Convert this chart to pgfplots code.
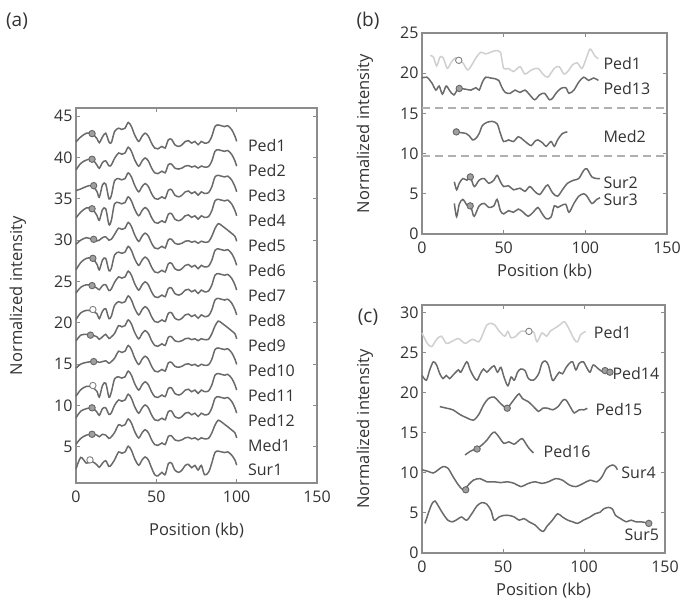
\documentclass[border=0pt]{standalone}
\usepackage{pgfplots}
\pgfplotsset{compat=1.18}
\usepackage{pgfplotstable}
\usepackage{fontspec}
\setmainfont{Open Sans}
\definecolor{ln}{HTML}{6A6A6A}
\definecolor{lt}{HTML}{CFCFCF}
\definecolor{fr}{HTML}{8C8C8C}
\definecolor{dsh}{HTML}{B0B0B0}
\definecolor{txt}{HTML}{333333}

\pgfplotstableread{
x a1 a2 a3 a4 a5 a6 a7 a8 a9 a10 a11 a12 a13 a14
0 41.9 38.5 36.0 32.7 29.5 26.4 23.6 20.4 17.8 14.5 11.1 8.5 5.3 2.3
3 42.5 39.3 36.2 33.4 30.0 27.3 24.3 21.2 18.5 15.0 11.9 9.3 6.0 3.7
6.5 42.95 39.7 36.5 33.9 30.3 27.8 24.6 21.5 18.6 15.2 12.3 9.6 6.4 3.0
10 42.9 39.8 36.6 33.8 30.1 27.8 24.5 21.4 18.5 15.3 12.2 9.7 6.5 3.2
13 42.3 39.1 35.9 33.0 29.9 27.1 24.2 21.1 18.3 15.3 11.7 9.2 6.4 2.8
14.5 41.8 38.7 35.2 32.4 30.0 26.4 24.0 20.5 18.0 15.2 11.0 8.8 6.2 2.5
16.5 42.5 39.4 36.7 33.7 30.3 27.6 24.5 21.4 18.3 15.3 12.4 9.6 6.5 3.0
18.5 42.95 39.6 36.8 33.8 30.4 27.8 24.6 21.7 18.6 15.4 12.7 9.7 6.4 3.3
20.5 41.9 39.0 35.0 31.9 30.0 26.3 23.9 20.5 18.1 15.1 11.0 8.9 6.0 2.6
22 41.8 39.1 35.4 32.4 30.1 26.6 24.1 20.8 18.3 15.3 11.6 9.1 6.2 2.8
24 43.15 39.9 37.2 34.4 30.7 28.2 24.9 22.1 18.7 15.7 13.2 10.0 6.7 3.4
26.5 43.55 40.55 37.45 34.55 31.45 28.55 25.55 22.55 19.65 16.55 13.45 10.65 7.65 4.35
28.5 43.4 40.4 37.3 34.4 31.3 28.4 25.4 22.4 19.5 16.4 13.3 10.5 7.5 4.2
30.5 43.55 40.55 37.45 34.55 31.45 28.55 25.55 22.55 19.65 16.55 13.45 10.65 7.65 4.35
32.5 44.25 41.25 38.15 35.25 32.15 29.25 26.25 23.25 20.35 17.25 14.15 11.35 8.35 5.05
34.5 43.75 40.75 37.65 34.75 31.65 28.75 25.75 22.75 19.85 16.75 13.65 10.85 7.85 4.55
36.5 42.75 39.75 36.65 33.75 30.65 27.75 24.75 21.75 18.85 15.75 12.65 9.85 6.85 3.55
39 41.95 38.95 35.85 32.95 29.85 26.95 23.95 20.95 18.05 14.95 11.85 9.05 6.05 2.75
41 42.55 39.55 36.45 33.55 30.45 27.55 24.55 21.55 18.65 15.55 12.45 9.65 6.65 3.35
43 42.95 39.95 36.85 33.95 30.85 27.95 24.95 21.95 19.05 15.95 12.85 10.05 7.05 3.75
45 42.6 39.6 36.5 33.6 30.5 27.6 24.6 21.6 18.7 15.6 12.5 9.7 6.7 3.4
47 41.75 38.75 35.65 32.75 29.65 26.75 23.75 20.75 17.85 14.75 11.65 8.85 5.85 2.45
49 41.15 38.15 35.05 32.15 29.05 26.15 23.15 20.15 17.25 14.15 11.05 8.25 5.25 1.61
51 41.05 38.05 34.95 32.05 28.95 26.05 23.05 20.05 17.15 14.05 10.95 8.15 5.15 1.47
53.5 41.35 38.35 35.25 32.35 29.25 26.35 23.35 20.35 17.45 14.35 11.25 8.45 5.45 1.89
55.5 41.15 38.15 35.05 32.15 29.05 26.15 23.15 20.15 17.25 14.15 11.05 8.25 5.25 1.61
57.5 42.15 39.15 36.05 33.15 30.05 27.15 24.15 21.15 18.25 15.15 12.05 9.25 6.25 2.95
59.5 42.2 39.2 36.1 33.2 30.1 27.2 24.2 21.2 18.3 15.2 12.1 9.3 6.3 3.0
61.5 41.55 38.73 35.45 32.55 29.63 26.55 23.55 20.55 17.83 14.73 11.45 8.65 5.83 2.17
64 41.35 38.61 35.25 32.35 29.51 26.35 23.35 20.35 17.71 14.61 11.25 8.45 5.71 1.89
66 41.55 38.73 35.45 32.55 29.63 26.55 23.55 20.55 17.83 14.73 11.45 8.65 5.83 2.17
68 41.95 38.97 35.85 32.95 29.87 26.95 23.95 20.95 18.07 14.97 11.85 9.05 6.07 2.73
70 42.05 39.03 35.95 33.05 29.93 27.05 24.05 21.05 18.13 15.03 11.95 9.15 6.13 2.85
72 41.75 38.85 35.65 32.75 29.75 26.75 23.75 20.75 17.95 14.85 11.65 8.85 5.95 2.45
74 41.95 38.97 35.85 32.95 29.87 26.95 23.95 20.95 18.07 14.97 11.85 9.05 6.07 2.73
76 41.55 38.73 35.45 32.55 29.63 26.55 23.55 20.55 17.83 14.73 11.45 8.65 5.83 2.17
78 41.95 38.97 35.85 32.95 29.87 26.95 23.95 20.95 18.07 14.97 11.85 9.05 6.07 2.73
80 41.75 38.85 35.65 32.75 29.75 26.75 23.75 20.75 17.95 14.85 11.65 8.85 5.95 1.6
82.5 41.85 38.91 35.75 32.85 29.81 26.85 23.85 20.85 18.01 14.91 11.75 8.95 6.01 1.9
84.5 42.55 39.55 36.45 33.55 30.45 27.55 24.55 21.55 18.65 15.55 12.45 9.65 6.65 3.0
86.5 43.75 40.75 37.65 34.75 31.4 28.75 25.75 22.75 19.6 16.75 13.65 10.85 7.6 4.29
88.5 43.95 40.95 37.85 34.95 32.0 28.95 25.95 22.95 20.2 16.95 13.85 11.05 8.2 4.46
90.5 43.85 40.85 37.75 34.85 31.8 28.85 25.85 22.85 20.0 16.85 13.75 10.95 8.0 4.37
92.5 43.75 40.75 37.65 34.75 31.5 28.75 25.75 22.75 19.7 16.75 13.65 10.85 7.7 4.29
94.5 43.85 40.85 37.75 34.85 31.2 28.85 25.85 22.85 19.4 16.85 13.75 10.95 7.4 4.37
97 43.35 40.35 37.25 34.35 30.8 28.35 25.35 22.35 19.0 16.35 13.25 10.45 7.0 3.95
99 42.55 39.55 36.45 33.55 30.45 27.55 24.55 21.55 18.65 15.55 12.45 9.65 6.65 3.35
100 41.95 38.95 35.85 32.95 29.85 26.95 23.95 20.95 18.05 14.95 11.85 9.05 6.05 2.75
}\tabA

\pgfplotsset{
  panel/.style={
    scale only axis, clip=false,
    axis line style={fr, line width=1.4pt},
    tick style={fr, line width=1pt},
    major tick length=4pt,
    tick align=inside, xtick pos=both, ytick pos=both,
    xmin=0, xmax=150, xtick={0,50,100,150},
    ticklabel style={font=\fontsize{16}{19}\selectfont, text=txt},
    xticklabel style={yshift=-4pt},
    /pgf/number format/assume math mode=true,
    xlabel={Position (kb)}, ylabel={Normalized intensity},
    label style={font=\fontsize{16.5}{19}\selectfont, text=txt},
    xlabel style={at={(axis description cs:0.5,0)}, anchor=center, yshift=-38pt},
    cycle list={ln,mark=none\\},
    every axis plot/.append style={line width=1.5pt, smooth},
  },
  fm/.style={only marks, mark=*, mark size=3.2pt, mark options={fill=gray!75, draw=black!60, line width=0.9pt}},
  om/.style={only marks, mark=*, mark size=3.2pt, mark options={fill=white, draw=black!50, line width=0.9pt}},
}
\tikzset{lab/.style={anchor=west, font=\fontsize{16}{19}\selectfont, text=txt, inner sep=0pt}}

\begin{document}
\begin{tikzpicture}
\useasboundingbox (0pt,0pt) rectangle (683pt,607pt);
\node[font=\fontsize{19}{22}\selectfont, text=txt] at (17pt,586pt) {(a)};
\node[font=\fontsize{19}{22}\selectfont, text=txt] at (368pt,586pt) {(b)};
\node[font=\fontsize{19}{22}\selectfont, text=txt] at (368pt,290pt) {(c)};

% ---------------- panel (a)
\begin{axis}[panel, at={(76pt,124pt)}, anchor=south west, width=241pt, height=375pt,
  ymin=0.6, ymax=46, ytick={5,10,...,45},
  xlabel style={yshift=-10pt},
  ylabel style={at={(axis description cs:-0.241,0.5)}, anchor=center}]
\pgfplotsinvokeforeach{a1,a2,a3,a4,a5,a6,a7,a8,a9,a10,a11,a12,a13,a14}{
  \addplot table[x=x, y=#1]{\tabA};
}
\addplot[fm] coordinates {(10,42.9) (10,39.8) (11,36.6) (10,33.8) (11,30.1) (10.5,27.8) (10,24.5) (9,18.5) (11,15.3) (10,9.7) (10,6.5)};
\addplot[om] coordinates {(10.5,21.6) (10.5,12.4) (8.7,3.4)};
\node[lab] at (axis cs:107,41.4) {Ped1};
\node[lab] at (axis cs:107,38.38) {Ped2};
\node[lab] at (axis cs:107,35.36) {Ped3};
\node[lab] at (axis cs:107,32.34) {Ped4};
\node[lab] at (axis cs:107,29.32) {Ped5};
\node[lab] at (axis cs:107,26.3) {Ped6};
\node[lab] at (axis cs:107,23.28) {Ped7};
\node[lab] at (axis cs:107,20.26) {Ped8};
\node[lab] at (axis cs:107,17.24) {Ped9};
\node[lab] at (axis cs:107,14.22) {Ped10};
\node[lab] at (axis cs:107,11.2) {Ped11};
\node[lab] at (axis cs:107,8.18) {Ped12};
\node[lab] at (axis cs:107,5.16) {Med1};
\node[lab] at (axis cs:107,2.14) {Sur1};
\end{axis}

% ---------------- panel (b)
\begin{axis}[panel, at={(422pt,373pt)}, anchor=south west, width=245pt, height=201pt,
  ymin=0, ymax=25, ytick={0,5,...,25},
  ylabel style={at={(axis description cs:-0.233,0.5)}, anchor=center}]
\addplot[dsh, dash pattern=on 8pt off 5pt, line width=1.6pt, sharp plot] coordinates {(0,15.7) (150,15.7)};
\addplot[dsh, dash pattern=on 8pt off 5pt, line width=1.6pt, sharp plot] coordinates {(0,9.7) (150,9.7)};
\addplot[lt] coordinates {(5,22.2) (7,22.0) (9,20.9) (11,22.0) (13,21.9) (15.5,20.6) (18,21.4) (20.5,21.9) (22.5,21.6) (25,21.3) (28,20.4) (31,21.2) (33,21.9) (36,22.6) (39,22.4) (42,22.6) (45,22.8) (48,22.6) (50,20.6) (53,20.6) (56,20.2) (60,20.8) (63,19.9) (67,20.4) (71,20.6) (74,19.9) (77,19.5) (81,20.6) (84,20.8) (87,19.9) (90,20.4) (92,21.0) (95,21.3) (98,20.6) (101,22.1) (103,23.0) (106,22.1) (108,21.8)};
\addplot coordinates {(0,19.4) (3,19.5) (6,18.8) (8.5,17.9) (10.5,18.4) (12.5,17.4) (14.8,18.4) (17,17.8) (19.5,17.3) (21.8,18.0) (23,18.1) (27,18.0) (30,17.9) (33,18.2) (35,17.9) (37,18.9) (39,19.5) (42,19.4) (45,19.3) (47,19.1) (49,18.2) (51,17.6) (54,17.5) (57,17.9) (60,17.6) (63,17.9) (66,17.3) (69,16.7) (72,17.3) (75,17.5) (78,16.7) (80,16.9) (82,17.5) (85,18.1) (88,18.2) (90,17.5) (93,17.9) (96,18.9) (99,19.5) (102,19.1) (105,19.4) (108,19.1)};
\addplot coordinates {(21,12.7) (24,12.6) (27,12.5) (29,12.2) (31,11.7) (33,11.9) (35,12.5) (37,13.5) (40,13.9) (43,14.0) (46,13.7) (48,12.5) (50,11.5) (53,11.7) (56,11.5) (59,12.1) (62,11.7) (65,11.2) (67,11.0) (69,11.5) (71,11.7) (74,11.3) (76,10.9) (79,11.5) (81,10.9) (83,11.7) (86,12.5) (89,12.7)};
\addplot coordinates {(19.8,6.5) (21.2,5.5) (22.8,6.3) (25,6.9) (27.5,6.7) (29.6,7.1) (32,5.9) (35,6.7) (38,6.9) (41,6.3) (44,6.7) (46,7.3) (48,6.5) (50,5.9) (53,6.0) (56,5.5) (60,5.7) (63,5.3) (66,5.9) (69,5.3) (72,4.9) (75,5.7) (77,6.1) (80,5.1) (83,4.7) (86,5.5) (89,6.3) (93,6.7) (96,6.9) (99,7.9) (101,8.1) (104,7.1) (107,6.9) (109,6.9)};
\addplot coordinates {(19.8,3.8) (21.2,2.15) (22.8,3.7) (25,4.3) (27.5,3.6) (29.5,3.5) (30.5,3.0) (32,2.2) (35,3.5) (38,3.8) (41,3.3) (44,3.5) (46,4.3) (48,2.9) (50,2.5) (53,2.9) (56,2.7) (59,3.1) (62,2.7) (65,2.2) (68,2.7) (71,3.3) (73,2.7) (76,1.9) (79,2.1) (81,3.5) (83,3.3) (85,3.5) (88,3.7) (90,2.7) (93,3.8) (96,4.7) (99,5.0) (101,4.7) (104,3.8) (107,4.3) (109,4.5)};
\addplot[om] coordinates {(22.5,21.6)};
\addplot[fm] coordinates {(22.8,18.1) (21,12.7) (29.6,7.1) (29.5,3.5)};
\node[lab] at (axis cs:111,21.2) {Ped1};
\node[lab] at (axis cs:111,18.1) {Ped13};
\node[lab] at (axis cs:111,12.1) {Med2};
\node[lab] at (axis cs:111,6.4) {Sur2};
\node[lab] at (axis cs:111,4.2) {Sur3};
\end{axis}

% ---------------- panel (c)
\begin{axis}[panel, at={(422pt,54pt)}, anchor=south west, width=243pt, height=248pt,
  ymin=0, ymax=31, ytick={0,5,...,30},
  ylabel style={at={(axis description cs:-0.235,0.5)}, anchor=center}]
\addplot[lt] coordinates {(0,27.5) (3.3,26.2) (6,25.8) (9,26.7) (12,27.1) (15,26.2) (18,26.4) (22.5,26.8) (26.6,26.2) (31,26.7) (35,26.4) (37,27.1) (40,28.5) (43,28.7) (45,28.5) (47,27.9) (51,27.1) (53,27.7) (55,26.9) (58,27.1) (61,27.7) (66,27.7) (69,27.6) (71,26.4) (74,27.5) (77,27.1) (79,27.7) (82,28.1) (85,28.5) (88,28.9) (91,27.9) (94,26.7) (96,26.4) (98,27.3) (101,27.7)};
\addplot coordinates {(0,22.2) (2.7,21.6) (4.8,22.9) (7,23.9) (9,23.5) (11,22.4) (13,21.8) (15,22.2) (17,21.8) (19,22.2) (22.5,22.9) (24,22.6) (27.6,23.9) (29.7,22.9) (32,22.0) (34,21.6) (36,22.4) (38,23.0) (40,22.6) (42,23.0) (44.5,23.4) (46.6,22.6) (48.7,23.2) (50.6,22.0) (53,20.9) (55,22.0) (57,21.6) (59,22.6) (61,23.0) (63.6,22.8) (65.7,21.8) (68.8,21.6) (72,22.4) (74,23.7) (76,24.0) (78,23.5) (80.5,21.6) (82.6,22.0) (84.7,22.6) (86.7,22.4) (89,23.2) (91,23.7) (93,23.9) (95,22.9) (97,23.7) (99.6,23.9) (101.6,23.2) (103.7,22.6) (105.7,23.5) (109,23.0) (112,22.6) (115,22.8)};
\addplot coordinates {(11,18.3) (15.2,18.1) (19,17.9) (23.5,17.3) (27.6,16.9) (31.7,16.6) (35,17.3) (38,18.5) (41,19.3) (44.5,19.5) (47.5,18.9) (50.6,18.3) (52.6,18.1) (55,18.7) (58,19.5) (60,19.9) (62,19.3) (65.7,18.9) (68.8,18.3) (72,17.7) (74.5,18.1) (77.6,18.1) (80.7,17.9) (84,18.3) (87,19.1) (89,19.1) (92,18.1) (94,17.5) (97,17.9) (100,17.9) (102,18.1)};
\addplot coordinates {(26.6,12.25) (29.7,12.7) (34,13.1) (37,13.5) (40,14.1) (43,14.9) (45,15.1) (47.5,14.5) (50.6,13.7) (53.6,13.9) (56.8,13.6) (60,14.1) (62,14.3) (64,13.7) (66,13.1) (68.8,12.5)};
\addplot coordinates {(0,10.4) (3.8,10.2) (7,10.0) (10,10.4) (13,10.8) (16,10.6) (19,9.6) (22.5,8.5) (25.5,7.9) (28.6,8.5) (31.7,9.1) (35.8,9.3) (40,8.9) (44.5,8.9) (48.7,8.8) (52.7,8.9) (57,8.7) (61,8.3) (65.7,8.7) (69.8,8.9) (74,8.7) (78,8.9) (82.6,9.3) (86.7,9.1) (91,8.5) (95,8.3) (99.6,8.7) (103.7,9.1) (108,8.9) (111,9.5) (114,10.6) (117.5,11.0) (119.5,10.8) (120.6,10.4)};
\addplot coordinates {(1.8,3.7) (3.8,4.9) (6,6.1) (8,6.5) (10,5.9) (13,4.9) (16,4.1) (19,3.9) (22.5,4.3) (24.5,4.5) (27.6,4.1) (30.7,4.9) (34,5.9) (37,6.3) (40,6.1) (42.6,5.3) (44.5,4.1) (47.5,4.5) (50.6,4.7) (53.6,4.7) (57,4.5) (60,4.1) (63,4.3) (66,3.9) (69.8,3.5) (72.8,2.9) (75,2.7) (77,3.3) (80.5,4.1) (83.7,4.9) (86.7,4.5) (90,4.1) (93,3.9) (96,3.7) (99.6,4.1) (103.7,4.5) (106.8,4.9) (110,5.1) (112,5.5) (115,5.7) (117.5,5.5) (119.5,4.7) (122.6,4.3) (126,3.9) (129,4.1) (132,3.9) (135,3.9) (138,3.8) (140,3.7)};
\addplot[om] coordinates {(66,27.7)};
\addplot[fm] coordinates {(113,22.8) (116,22.6) (52.6,18.1) (34,13.0) (27,7.9) (140,3.7)};
\node[lab] at (axis cs:106,27.5) {Ped1};
\node[lab] at (axis cs:117.5,22.4) {Ped14};
\node[lab] at (axis cs:107,17.9) {Ped15};
\node[lab] at (axis cs:75,12.7) {Ped16};
\node[lab] at (axis cs:123,10.0) {Sur4};
\node[lab] at (axis cs:125,2.25) {Sur5};
\end{axis}
\end{tikzpicture}
\end{document}
